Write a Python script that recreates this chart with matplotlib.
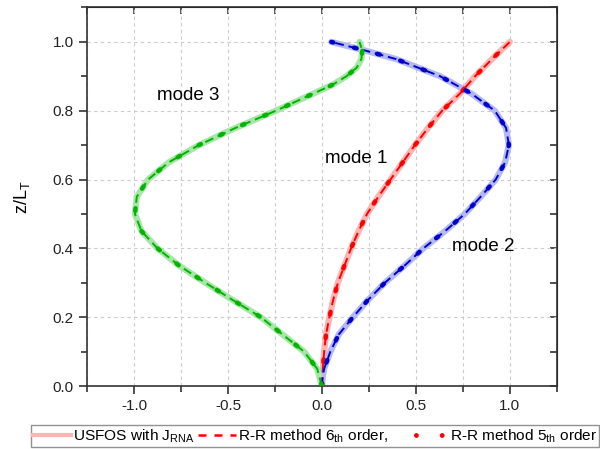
"""Mode shapes of the tower: USFOS vs Rayleigh-Ritz approximations."""

import matplotlib.pyplot as plt
from matplotlib.lines import Line2D
from matplotlib.ticker import MultipleLocator

plt.rcParams["font.family"] = ["Liberation Sans", "DejaVu Sans"]
plt.rcParams["mathtext.fontset"] = "custom"
plt.rcParams["mathtext.rm"] = "Liberation Sans"
plt.rcParams["axes.unicode_minus"] = False

# mode 1 (red)
y_mode1 = [0.0, 0.05, 0.1, 0.15, 0.2, 0.25, 0.3, 0.35, 0.4, 0.45, 0.5,
           0.55, 0.6, 0.65, 0.7, 0.75, 0.8, 0.85, 0.9, 0.95, 1.0]
x_mode1 = [0.0, 0.005, 0.012, 0.022, 0.04, 0.06, 0.085, 0.12, 0.155, 0.195, 0.24,
           0.30, 0.365, 0.43, 0.495, 0.565, 0.64, 0.735, 0.815, 0.905, 1.0]

# mode 2 (blue)
y_mode2 = [0.0, 0.025, 0.05, 0.1, 0.15, 0.2, 0.25, 0.3, 0.35, 0.4, 0.45, 0.5,
           0.55, 0.6, 0.65, 0.7, 0.75, 0.8, 0.85, 0.9, 0.95, 0.975, 1.0]
x_mode2 = [0.0, 0.004, 0.012, 0.045, 0.09, 0.165, 0.245, 0.335, 0.44, 0.54, 0.655, 0.76,
           0.845, 0.925, 0.975, 0.995, 0.98, 0.92, 0.795, 0.63, 0.395, 0.23, 0.05]

# mode 3 (green)
y_mode3 = [0.0, 0.05, 0.1, 0.15, 0.2, 0.25, 0.3, 0.35, 0.4, 0.45, 0.5,
           0.55, 0.6, 0.65, 0.7, 0.75, 0.8, 0.85, 0.875, 0.9, 0.925, 0.95, 0.975, 1.0]
x_mode3 = [0.0, -0.025, -0.095, -0.21, -0.325, -0.475, -0.62, -0.76, -0.875, -0.96, -0.995,
           -0.985, -0.925, -0.815, -0.655, -0.46, -0.245, -0.045, 0.055, 0.13, 0.185,
           0.21, 0.215, 0.2]

MODES = [
    (x_mode1, y_mode1, "#ff0000", "#ffb4b4"),
    (x_mode2, y_mode2, "#0000cc", "#b4b8f4"),
    (x_mode3, y_mode3, "#00b400", "#a6e6a6"),
]

DOTS = (0, (0.6, 4.8))
DASHES = (0, (4.5, 2.5))

fig = plt.figure(figsize=(6, 4.49), dpi=100)
ax = fig.add_axes([0.145, 0.1403, 0.783, 0.843])

for xs, ys, dark, light in MODES:
    ax.plot(xs, ys, color=light, lw=4.5, solid_capstyle="round", zorder=2)
    ax.plot(xs, ys, color=dark, lw=1.4, linestyle=DASHES, zorder=3)
    ax.plot(xs, ys, color=dark, lw=3.2, linestyle=DOTS,
            dash_capstyle="round", zorder=4)

ax.text(-0.71, 0.845, "mode 3", fontsize=13.5, ha="center", va="center")
ax.text(0.18, 0.66, "mode 1", fontsize=13.5, ha="center", va="center")
ax.text(0.86, 0.405, "mode 2", fontsize=13.5, ha="center", va="center")

ax.set_xlim(-1.25, 1.25)
ax.set_ylim(0, 1.1)
ax.xaxis.set_major_locator(MultipleLocator(0.5))
ax.xaxis.set_minor_locator(MultipleLocator(0.25))
ax.yaxis.set_major_locator(MultipleLocator(0.2))
ax.yaxis.set_minor_locator(MultipleLocator(0.1))
ax.tick_params(which="both", direction="out", color="#333333", labelsize=11,
               labelcolor="#222222")
ax.tick_params(which="major", length=6, width=1.2)
ax.tick_params(which="minor", length=4, width=1.2)
ax.grid(which="both", axis="x", color="#cccccc", linestyle=(0, (3, 3)), lw=0.8)
ax.grid(which="major", axis="y", color="#cccccc", linestyle=(0, (3, 3)), lw=0.8)
ax.set_axisbelow(True)
for sp in ax.spines.values():
    sp.set_color("#333333")
    sp.set_linewidth(1.2)
ax.set_ylabel("z/L$_\\mathregular{T}$", fontsize=13, labelpad=15)

top = ax.secondary_xaxis("top")
top.xaxis.set_major_locator(MultipleLocator(0.25))
top.tick_params(direction="in", length=5, width=1.2, color="#333333",
                labeltop=False)
right = ax.secondary_yaxis("right")
right.yaxis.set_major_locator(MultipleLocator(0.1))
right.tick_params(direction="in", length=5, width=1.2, color="#333333",
                  labelright=False)

handles = [
    Line2D([], [], color="#ffb4b4", lw=3),
    Line2D([], [], color="#ff0000", lw=1.8, linestyle=(0, (3.2, 3.2))),
    Line2D([], [], color="#ff0000", lw=3.5, linestyle=(4.1, (0.01, 5.3)),
           dash_capstyle="round"),
]
labels = [
    "USFOS with J$_\\mathregular{RNA}$",
    "R-R method 6$_\\mathregular{th}$ order,     ",
    "R-R method 5$_\\mathregular{th}$ order",
]
leg = fig.legend(handles, labels, loc="lower left", ncol=3,
                 bbox_to_anchor=(31 / 600, 1 - 447 / 449), fontsize=11.1,
                 frameon=True, fancybox=False, edgecolor="#777777",
                 handlelength=2.45, handletextpad=0.15, columnspacing=0.2,
                 borderpad=0.15, borderaxespad=0)
leg.get_frame().set_linewidth(1.0)

fig.savefig("out.png", dpi=100)
